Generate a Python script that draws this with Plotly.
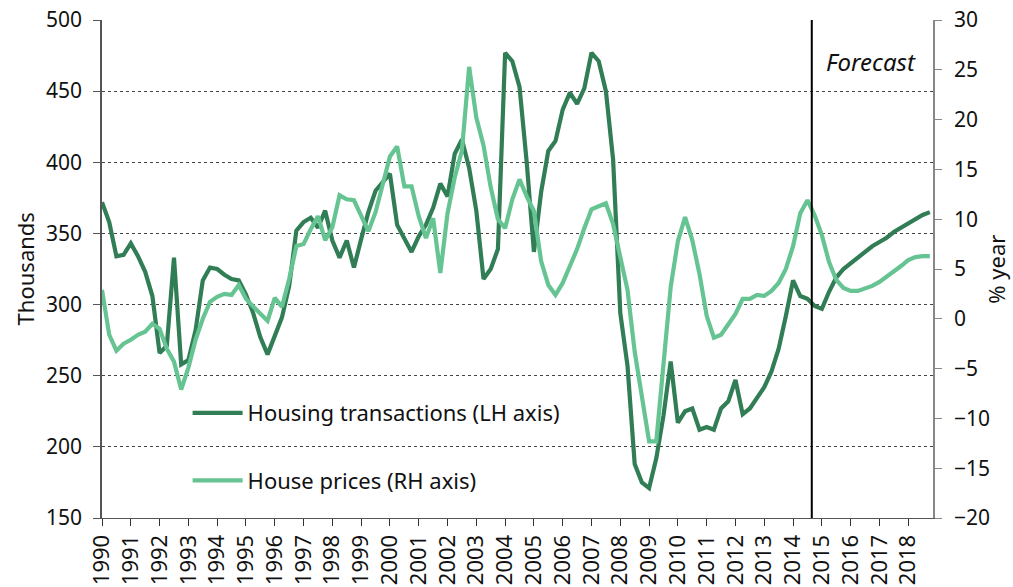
import plotly.graph_objects as go

# Quarterly data, 1990Q1 - 2018Q4
years = list(range(1990, 2019))
quarters = [y + q / 4 for y in years for q in range(4)]

transactions = [
    372, 358, 334, 335,   # 1990
    343, 334, 323, 306,   # 1991
    266, 271, 333, 258,   # 1992
    261, 282, 317, 326,   # 1993
    325, 321, 318, 317,   # 1994
    307, 294, 277, 265,   # 1995
    278, 291, 313, 352,   # 1996
    358, 361, 354, 366,   # 1997
    345, 333, 345, 326,   # 1998
    346, 365, 380, 386,   # 1999
    392, 356, 346, 337,   # 2000
    348, 356, 368, 385,   # 2001
    376, 406, 416, 396,   # 2002
    366, 318, 325, 339,   # 2003
    477, 471, 453, 400,   # 2004
    337, 379, 408, 415,   # 2005
    437, 449, 441, 452,   # 2006
    477, 471, 450, 402,   # 2007
    294, 257, 188, 175,   # 2008
    171, 192, 222, 260,   # 2009
    217, 225, 227, 212,   # 2010
    214, 212, 227, 232,   # 2011
    247, 223, 227, 234,   # 2012
    242, 253, 269, 292,   # 2013
    317, 306, 304, 299,   # 2014
    297, 309, 319, 325,   # 2015
    329, 333, 337, 341,   # 2016
    344, 347, 351, 354,   # 2017
    357, 360, 363, 365,   # 2018
]

house_prices = [
    2.9, -1.6, -3.2, -2.5,    # 1990
    -2.1, -1.6, -1.3, -0.5,   # 1991
    -1.0, -3.0, -4.3, -7.1,   # 1992
    -4.9, -2.1, 0.0, 1.7,     # 1993
    2.2, 2.5, 2.4, 3.4,       # 1994
    2.0, 1.2, 0.5, -0.2,      # 1995
    2.1, 1.2, 4.0, 7.3,       # 1996
    7.5, 9.0, 10.3, 7.9,      # 1997
    9.2, 12.4, 12.0, 11.9,    # 1998
    10.3, 8.8, 10.7, 13.6,    # 1999
    16.3, 17.3, 13.3, 13.3,   # 2000
    10.3, 8.1, 10.1, 4.6,     # 2001
    10.6, 14.2, 16.9, 25.3,   # 2002
    20.2, 17.4, 13.2, 10.0,   # 2003
    9.1, 12.0, 14.0, 12.3,    # 2004
    10.8, 5.8, 3.4, 2.4,      # 2005
    3.6, 5.3, 7.0, 9.1,       # 2006
    11.0, 11.3, 11.6, 9.5,    # 2007
    6.1, 2.9, -3.3, -7.9,     # 2008
    -12.3, -12.3, -4.5, 3.2,  # 2009
    7.8, 10.2, 7.9, 4.5,      # 2010
    0.3, -1.9, -1.6, -0.6,    # 2011
    0.5, 2.0, 2.0, 2.4,       # 2012
    2.3, 2.8, 3.6, 5.0,       # 2013
    7.3, 10.6, 11.9, 10.4,    # 2014
    8.4, 5.7, 3.9, 3.1,       # 2015
    2.8, 2.8, 3.0, 3.3,       # 2016
    3.7, 4.2, 4.7, 5.3,       # 2017
    5.9, 6.2, 6.3, 6.3,       # 2018
]

year_labels = [str(y) for y in years]
forecast_start = 2014.65

DARK = "#317d55"
LIGHT = "#66c492"
FONT = "Noto Sans"

fig = go.Figure()
fig.add_trace(go.Scatter(
    x=quarters, y=transactions, mode="lines", name="Housing transactions (LH axis)",
    line=dict(color=DARK, width=4.2), legendgroup="a", yaxis="y"))
fig.add_trace(go.Scatter(
    x=quarters, y=house_prices, mode="lines", name="House prices (RH axis)",
    line=dict(color=LIGHT, width=4.2), legendgroup="b", yaxis="y2"))

fig.add_shape(type="line", xref="x", yref="paper", x0=forecast_start, x1=forecast_start,
              y0=0, y1=1, line=dict(color="black", width=2))
fig.add_annotation(text="<i>Forecast</i>", xref="paper", yref="paper", x=0.982, y=0.916,
                   xanchor="right", yanchor="middle", showarrow=False,
                   font=dict(family=FONT, size=24, color="#111"))
fig.add_annotation(text="Thousands", xref="paper", yref="paper", x=-0.0922, y=0.5,
                   xanchor="center", yanchor="middle", textangle=-90, showarrow=False,
                   font=dict(family=FONT, size=22, color="#111"))
fig.add_annotation(text="% year", xref="paper", yref="paper", x=1.0754, y=0.5,
                   xanchor="center", yanchor="middle", textangle=-90, showarrow=False,
                   font=dict(family=FONT, size=22, color="#111"))

fig.update_layout(
    template="none",
    width=1013, height=587,
    margin=dict(l=102, r=80, t=20, b=69),
    paper_bgcolor="white", plot_bgcolor="white",
    font=dict(family=FONT, size=21, color="#111"),
    showlegend=True,
    legend=dict(x=0.103, y=0.253, xanchor="left", yanchor="top",
                bgcolor="rgba(0,0,0,0)", traceorder="grouped", tracegroupgap=36,
                itemwidth=50, font=dict(family=FONT, size=22, color="#111")),
    xaxis=dict(range=[1990, 2018.86], tickmode="array", tickvals=years, ticktext=year_labels,
               tickangle=-90, ticks="outside", ticklen=7, tickcolor="#333",
               showline=True, linecolor="#555", linewidth=1, showgrid=False,
               zeroline=False, automargin=False, tickfont=dict(size=22)),
    yaxis=dict(range=[150, 500], tickmode="array", tickvals=list(range(150, 501, 50)),
               ticks="outside", ticklen=7, tickcolor="#555",
               showline=True, linecolor="#555", linewidth=1.5,
               showgrid=True, gridcolor="#444", griddash="dot", gridwidth=1,
               zeroline=False, automargin=False, ticklabelstandoff=7,
               ticklabeloverflow="allow", tickfont=dict(size=21)),
    yaxis2=dict(range=[-20, 30], tickmode="array", tickvals=list(range(-20, 31, 5)),
                overlaying="y", side="right",
                ticks="outside", ticklen=7, tickcolor="#888",
                showline=True, linecolor="#888", linewidth=1.5,
                showgrid=False, zeroline=False, automargin=False, ticklabelstandoff=8,
                ticklabeloverflow="allow", tickfont=dict(size=21)),
)

fig.write_html("out.html", config={"displayModeBar": False},
               post_script="document.body.style.margin='0px';")
